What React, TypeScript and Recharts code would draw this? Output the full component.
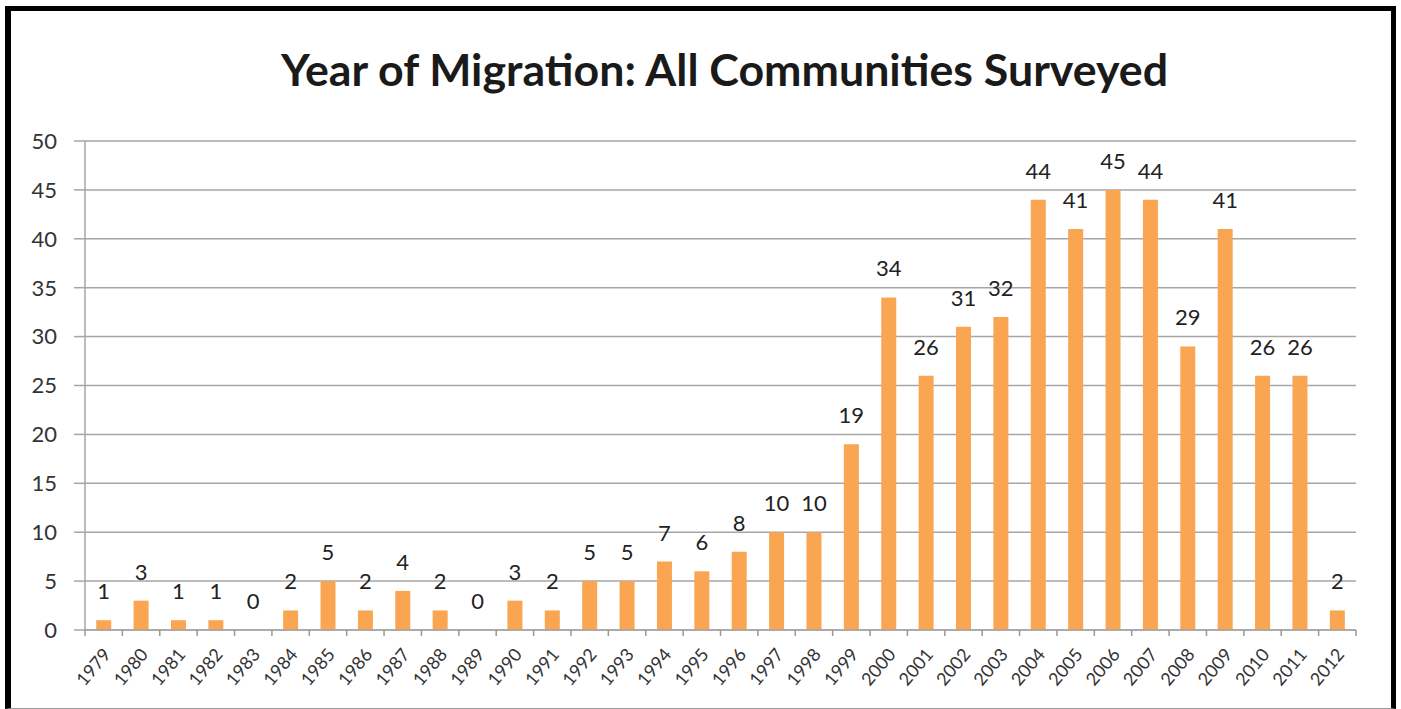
import React from "react";
import { ComposedChart, Bar, Line, XAxis, YAxis, CartesianGrid, LabelList } from "recharts";

const years = ["1979","1980","1981","1982","1983","1984","1985","1986","1987","1988","1989","1990","1991","1992","1993","1994","1995","1996","1997","1998","1999","2000","2001","2002","2003","2004","2005","2006","2007","2008","2009","2010","2011","2012"];
const counts = [1,3,1,1,0,2,5,2,4,2,0,3,2,5,5,7,6,8,10,10,19,34,26,31,32,44,41,45,44,29,41,26,26,2];
const yTicks = [0,5,10,15,20,25,30,35,40,45,50];
const title = "Year of Migration: All Communities Surveyed";

const data = years.map((y, i) => ({ year: y, value: counts[i] }));

const W = 1401;
const H = 709;
const PLOT_LEFT = 85;
const PLOT_RIGHT = 1356;
const PLOT_TOP = 141;
const BAND = (PLOT_RIGHT - PLOT_LEFT) / years.length;
const FONT = "Lato, 'Open Sans', sans-serif";

const XTick = (props: any) => {
  const { x, y, payload, index } = props;
  const left = x - BAND / 2;
  const tx = x + 8;
  const ty = y + 17;
  return (
    <g>
      <line x1={left} y1={y - 8} x2={left} y2={y - 2} stroke="#999" strokeWidth={1.5} />
      {index === years.length - 1 && (
        <line x1={x + BAND / 2} y1={y - 8} x2={x + BAND / 2} y2={y - 2} stroke="#999" strokeWidth={1.5} />
      )}
      <text
        x={tx}
        y={ty}
        transform={`rotate(-50, ${tx}, ${ty})`}
        textAnchor="end"
        fontSize={18}
        fill="#333"
        fontFamily={FONT}
      >
        {payload.value}
      </text>
    </g>
  );
};

export default function App() {
  return (
    <div style={{ position: "absolute", left: 0, top: 0, width: W, height: H, background: "#fff", fontFamily: FONT }}>
      <div
        style={{
          position: "absolute",
          left: 5,
          top: 6,
          width: 1380,
          height: 697,
          borderLeft: "6px solid #000",
          borderTop: "5px solid #000",
          borderRight: "5px solid #000",
          borderBottom: "1px solid #999",
        }}
      />
      <div
        style={{
          position: "absolute",
          left: 24,
          width: W,
          top: 41,
          textAlign: "center",
          fontSize: 44.7,
          fontWeight: 700,
          color: "#1a1a1a",
          fontFamily: FONT,
          lineHeight: "56px",
        }}
      >
        {title}
      </div>
      <div style={{ position: "absolute", left: 0, top: 0 }}>
        <ComposedChart
          width={W}
          height={H}
          data={data}
          margin={{ top: PLOT_TOP, right: W - PLOT_RIGHT, bottom: 9, left: PLOT_LEFT - 60 }}
          barCategoryGap="30%"
        >
          <CartesianGrid vertical={false} stroke="#a6a6a6" strokeWidth={1.5} />
          <YAxis
            width={60}
            domain={[0, 50]}
            ticks={yTicks}
            interval={0}
            tickSize={11}
            tickMargin={17}
            axisLine={{ stroke: "#a6a6a6", strokeWidth: 1.5 }}
            tickLine={{ stroke: "#a6a6a6", strokeWidth: 1.5 }}
            tick={{ fontSize: 22, fill: "#333", fontFamily: FONT }}
          />
          <XAxis
            dataKey="year"
            height={70}
            interval={0}
            tickLine={false}
            axisLine={{ stroke: "#a6a6a6", strokeWidth: 1.5 }}
            tick={<XTick />}
          />
          <Bar dataKey="value" fill="#F9A552" isAnimationActive={false} />
          <Line
            dataKey="value"
            stroke="none"
            dot={false}
            activeDot={false}
            isAnimationActive={false}
            legendType="none"
          >
            <LabelList dataKey="value" position="top" offset={21} fontSize={22} fill="#222" fontFamily={FONT} />
          </Line>
        </ComposedChart>
      </div>
    </div>
  );
}
